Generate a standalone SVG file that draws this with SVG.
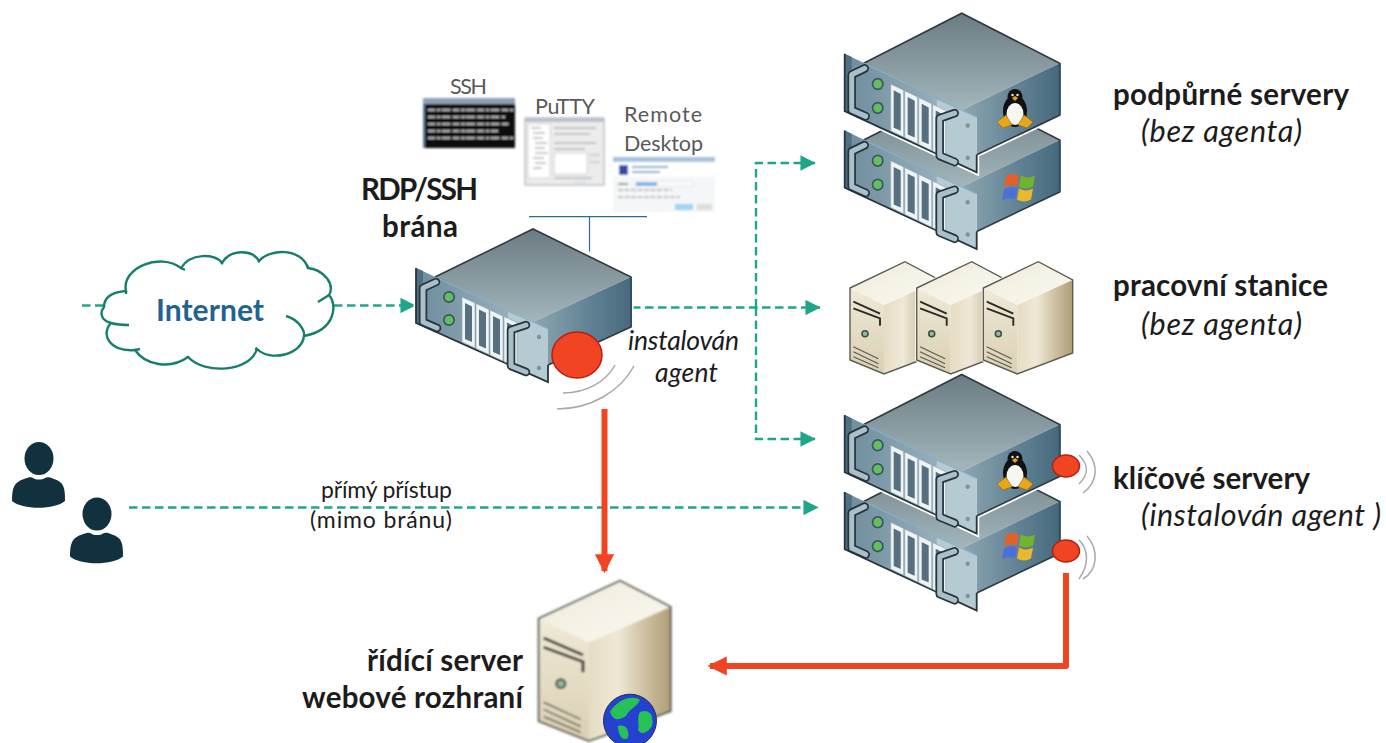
<svg xmlns="http://www.w3.org/2000/svg" width="1386" height="743" viewBox="0 0 1386 743">
<style>
.t{font-family:"Lato","Open Sans","Liberation Sans",sans-serif;fill:#1c1c1c}
.b{font-weight:700;font-size:29.5px}
.i{font-style:italic;font-size:30.5px}
.g{font-size:21.5px;fill:#595959}
.s{font-size:23px}
.dash{fill:none;stroke:#1fa58a;stroke-width:2.4;stroke-dasharray:8.500 4.500}
.red{fill:none;stroke:#f04423;stroke-width:6;stroke-linejoin:round}
.arc{fill:none;stroke:#a8a8a8;stroke-width:1.5}
.agent{fill:#f04423;stroke:#b81f12;stroke-width:1.5}
.h1{fill:none;stroke:#26343b;stroke-width:8.500;stroke-linejoin:round;stroke-linecap:round}
.h2{fill:none;stroke:#a9bfc9;stroke-width:5;stroke-linejoin:round;stroke-linecap:round}
.user{fill:#12313f}
</style>
<defs>
<filter id="soft" x="-10%" y="-10%" width="120%" height="120%"><feGaussianBlur stdDeviation="0.6"/></filter>
<filter id="soft2" x="-10%" y="-10%" width="120%" height="120%"><feGaussianBlur stdDeviation="0.8"/></filter>
<linearGradient id="rTop" x1="0" y1="0" x2="0" y2="1"><stop offset="0" stop-color="#6b7b82"/><stop offset="1" stop-color="#a3b6bc"/></linearGradient>
<linearGradient id="rSide" x1="0" y1="0" x2="1" y2="0"><stop offset="0" stop-color="#8ea6b0"/><stop offset=".55" stop-color="#638496"/><stop offset="1" stop-color="#47697d"/></linearGradient>
<linearGradient id="rFront" x1="0" y1="0" x2="1" y2="0"><stop offset="0" stop-color="#6d8c9c"/><stop offset=".7" stop-color="#97aebb"/><stop offset="1" stop-color="#b9ccd5"/></linearGradient>
<linearGradient id="tTop" x1="0" y1="0" x2="1" y2="1"><stop offset="0" stop-color="#eeeadb"/><stop offset="1" stop-color="#fbf9f1"/></linearGradient>
<linearGradient id="tSide" x1="0" y1="0" x2="1" y2="0"><stop offset="0" stop-color="#e5dcc4"/><stop offset=".35" stop-color="#efe8d6"/><stop offset=".75" stop-color="#c7b998"/><stop offset="1" stop-color="#ae9d78"/></linearGradient>
<linearGradient id="tFront" x1="0" y1="0" x2="0" y2="1"><stop offset="0" stop-color="#efe9d6"/><stop offset="1" stop-color="#d9cfb3"/></linearGradient>
<marker id="ta" viewBox="0 0 8 8" refX="7.6" refY="4" markerWidth="6.4" markerHeight="6.4" orient="auto"><path d="M0 0L8 4L0 8Z" fill="#1fa58a"/></marker>
<marker id="ra" viewBox="0 0 8 8" refX="7" refY="4" markerWidth="3.2" markerHeight="3.6" orient="auto"><path d="M0 0L8 4L0 8Z" fill="#f04423"/></marker>
<g id="bay"><path d="M-71 68L-58 74V119L-71 113Z" fill="#eef3f5" stroke="#8ba2ad" stroke-width=".6"/><path d="M-68 74L-61 77.5V113L-68 110Z" fill="#56707f"/></g>
<g id="handleL"><path class="h1" d="M-97 53L-110 59V93L-96 99"/><path class="h2" d="M-97 53L-110 59V93L-96 99"/></g>
<g id="rack" filter="url(#soft)">
<path d="M0 0L98 48V98L15 136V153L-117 94V39L-98 48Z" fill="#fff" stroke="#fff" stroke-width="5"/>
<path d="M0 0L98 48L0 93L-98 48Z" fill="url(#rTop)"/>
<path d="M0 93L98 48V98L15 136V100Z" fill="url(#rSide)"/>
<path d="M-117 39L15 100V153L-117 94Z" fill="url(#rFront)"/>
<path d="M-117 39L-110 42V97L-117 94Z" fill="#4f7082"/>
<path d="M-25 83L15 100V153L-25 135Z" fill="#b6cad3"/>
<path d="M-98 48L0 0L98 48V98L15 136" fill="none" stroke="#2f3a40" stroke-width="1.6"/>
<path d="M-98 48L15 100" fill="none" stroke="#7fb2cb" stroke-width="1"/>
<path d="M-117 39V94L15 153V136" fill="none" stroke="#28343a" stroke-width="1.8"/>
<path d="M98 48V98" stroke="#33505f" stroke-width="2"/>
<use href="#bay"/><use href="#bay" x="14" y="6.5"/><use href="#bay" x="28" y="13"/><use href="#bay" x="42" y="19.5"/>
<circle cx="-84" cy="68" r="6" fill="#3e5660"/><circle cx="-84" cy="68" r="4.3" fill="#62bf5e"/>
<circle cx="-84" cy="91" r="6" fill="#3e5660"/><circle cx="-84" cy="91" r="4.3" fill="#62bf5e"/>
<use href="#handleL"/>
<path class="h1" d="M-7 96L-22 101V137L-7 143"/><path class="h2" d="M-7 96L-22 101V137L-7 143"/>
<circle cx="6" cy="108" r="2.2" fill="#7d949f"/><circle cx="6" cy="139" r="2.2" fill="#7d949f"/>
</g>
<g id="tux"><ellipse cx="0" cy="2" rx="12" ry="16" fill="#111"/><ellipse cx="0" cy="-12" rx="7.5" ry="8" fill="#111"/><ellipse cx="0" cy="5" rx="8.500" ry="11" fill="#f7f7f2"/><path d="M-3 -11L0 -8L3 -11L0 -13Z" fill="#e4a11b"/><circle cx="-2.5" cy="-14" r="1.2" fill="#eee"/><circle cx="2.5" cy="-14" r="1.2" fill="#eee"/><path d="M-18 13L-9 6L-3 16L-12 19Z" fill="#e8a716" stroke="#8a6510" stroke-width=".6"/><path d="M18 13L9 6L3 16L12 19Z" fill="#e8a716" stroke="#8a6510" stroke-width=".6"/></g>
<g id="win"><path d="M-13 -11Q-7 -14 0 -11L-2 0Q-9 -3 -15 1Z" fill="#e4602a"/><path d="M2 -11Q9 -7 16 -11L14 0Q7 4 0 0Z" fill="#71b52d"/><path d="M-15 3Q-9 -1 -2 2L-4 13Q-11 10 -17 14Z" fill="#4f6fd8"/><path d="M0 2Q7 6 14 2L12 13Q5 17 -2 13Z" fill="#e7b92c"/></g>
<g id="tower" filter="url(#soft)">
<path d="M0 0L34.4 18.3V91.3L-21 112.3L-55 98.3V26.3Z" fill="#fff" stroke="#fff" stroke-width="3"/>
<path d="M0 0L34.4 18.3L-21 43.3L-55 26.3Z" fill="url(#tTop)"/>
<path d="M-21 43.3L34.4 18.3V91.3L-21 112.3Z" fill="url(#tSide)"/>
<path d="M-55 26.3L-21 43.3V112.3L-55 98.3Z" fill="url(#tFront)"/>
<path d="M-55 26.3L0 0L34.4 18.3V91.3L-21 112.3L-55 98.3Z" fill="none" stroke="#5c5b52" stroke-width="1.4"/>
<path d="M-51.6 40L-25 52M-51.6 46.6L-25 56.6V64" fill="none" stroke="#2b2b26" stroke-width="1.9"/>
<circle cx="-40" cy="72" r="3" fill="#9ab5a0" stroke="#315247" stroke-width="1.5"/>
<path d="M-51.6 85L-26.6 97M-51.6 90L-26.6 102M-51.6 95L-26.6 106" fill="none" stroke="#5a5a50" stroke-width="1.1"/>
</g>
<g id="person"><ellipse cx="39" cy="458.5" rx="14.5" ry="16.5"/><path d="M12 501C12 488 14 482 24 479C29 477 32 477 33 478C36 480 42 480 45 478C47 477 50 477 54 479C64 482 65 488 65 501C55 510 22 510 12 501Z"/></g>
</defs>

<g id="connectors">
<path class="dash" d="M82 305.5H106"/>
<path class="dash" d="M334 305.5H415" marker-end="url(#ta)"/>
<path class="dash" d="M632 307.5H820" marker-end="url(#ta)"/>
<path class="dash" d="M756 307.500V163H815" marker-end="url(#ta)"/>
<path class="dash" d="M756 307.500V439H815" marker-end="url(#ta)"/>
<path class="dash" d="M129 507.5H818" marker-end="url(#ta)"/>
<path class="red" d="M604.5 409V571" marker-end="url(#ra)"/>
<path class="red" d="M1066 573V666H710" marker-end="url(#ra)"/>
<path d="M529 216.7H647M589.5 216.7V251.5" fill="none" stroke="#2a6a9a" stroke-width="1.2"/>
</g>

<g id="rdp-gateway">
<use href="#rack" transform="translate(533,229)"/>
<path class="arc" d="M615 365C606 382 586 393 563 393"/>
<path class="arc" d="M634 366C620 392 590 409 557 409"/>
<ellipse class="agent" cx="577" cy="355" rx="25" ry="23"/>
</g>

<g id="support-windows"><use href="#rack" transform="translate(961.7,90) scale(1,1.04)"/><use href="#win" transform="translate(1019,186.5)"/></g>
<g id="support-linux"><use href="#rack" transform="translate(961.7,13.3) scale(1,1.04)"/><use href="#tux" transform="translate(1015,109)"/></g>

<g id="workstations">
<use href="#tower" transform="translate(905,261.7)"/>
<use href="#tower" transform="translate(971.7,261.7)"/>
<use href="#tower" transform="translate(1038.3,261.7)"/>
</g>

<g id="key-windows"><use href="#rack" transform="translate(961.7,451.5) scale(1,1.04)"/><use href="#win" transform="translate(1019,545.5)"/>
<path class="arc" d="M1079 540C1089 550 1089 565 1079 579"/><path class="arc" d="M1087 536C1099 550 1098 570 1083 579"/><ellipse class="agent" cx="1066" cy="551" rx="13.5" ry="11"/></g>
<g id="key-linux"><use href="#rack" transform="translate(961.7,374.5) scale(1,1.04)"/><use href="#tux" transform="translate(1015,471)"/>
<path class="arc" d="M1079 455C1089 465 1089 474 1079 484"/><path class="arc" d="M1087 451C1099 465 1098 482 1083 493"/><ellipse class="agent" cx="1066" cy="466" rx="13.5" ry="11"/></g>

<g id="control-server">
<use href="#tower" transform="translate(620,580.7) scale(1.48,1.43)"/>
<g filter="url(#soft)">
<circle cx="630" cy="720.7" r="26.5" fill="#2540d0" stroke="#24304f" stroke-width="1"/>
<path d="M610 712C618 698 634 695 640 700C636 708 630 708 626 716C620 720 614 722 610 712ZM640 712C650 708 654 716 652 726C648 732 642 736 638 730C640 724 636 718 640 712ZM618 726C624 724 630 728 628 738C622 742 618 734 618 726Z" fill="#27c254"/>
</g>
</g>

<g id="internet-cloud">
<path d="M104 307C104 297 113 292 126 291C121 268 160 252 181 268C190 253 215 253 222 263C230 249 252 249 259 261C270 248 302 248 308 268C325 270 335 285 329 295C337 303 337 330 304 336C302 355 270 362 257 349C250 372 205 375 188 357C170 370 145 365 135 350C110 352 100 335 111 323C100 320 100 312 104 307Z" fill="#fff" stroke="#167f6c" stroke-width="2.4"/>
<path d="M181 268L185 270M222 263L222 264M259 261L258 262M308 268L307 265M329 295L318 302M286 316C300 320 305 332 304 336M257 349L255 349M188 357L188 356M135 350L140 349M111 323C118 325 122 325 129 325M126 291L126 294" fill="none" stroke="#167f6c" stroke-width="2.4"/>
<text class="t" x="156" y="320.500" textLength="108" style="font-weight:700;font-size:30px;fill:#1f6391">Internet</text>
</g>

<g id="users" class="user">
<use href="#person"/>
<use href="#person" x="58" y="55.5"/>
</g>

<g id="ssh-window">
<g filter="url(#soft2)">
<rect x="423" y="98" width="92" height="50" fill="#0c0c0c"/>
<rect x="423" y="98" width="92" height="6" fill="#8fa0b5"/>
<rect x="423" y="104" width="2" height="44" fill="#5e7699"/>
<path d="M428 110H513M428 117H505M428 124H510M428 131H498M428 138H513" fill="none" stroke="#b5b5b5" stroke-width="1.8" stroke-dasharray="7 1.5 4 1 9 2"/>
</g>
<text class="t g" x="450" y="94" textLength="37">SSH</text>
</g>

<g id="putty-window">
<g filter="url(#soft2)">
<rect x="525" y="118" width="79" height="67" fill="#ececec" stroke="#a2a2a2"/>
<rect x="525" y="118" width="79" height="4" fill="#b9c0c9"/>
<rect x="528" y="124" width="22" height="54" fill="#fff" stroke="#b5b5b5" stroke-width=".5"/>
<path d="M531 128H541M533 133H545M533 138H543M535 143H547M535 148H545M535 153H548M533 158H544M535 163H546M533 168H542" stroke="#8f8f8f" stroke-width="1"/>
<rect x="554" y="153" width="33" height="21" fill="#fff" stroke="#b0b0b0" stroke-width=".5"/>
<path d="M554 128H596M554 134H590M554 143H596M554 149H585M554 178H592" stroke="#9a9a9a" stroke-width="1"/>
<rect x="589" y="153" width="11" height="4" fill="#dcdcdc"/><rect x="589" y="160" width="11" height="4" fill="#dcdcdc"/><rect x="574" y="180" width="12" height="4" fill="#dce6ee"/>
</g>
<text class="t g" x="535" y="114" textLength="60">PuTTY</text>
</g>

<g id="rd-window">
<g filter="url(#soft2)">
<rect x="613" y="157" width="102" height="55" fill="#f4f6f8"/>
<rect x="613" y="157" width="102" height="5" fill="#a9c3dc"/>
<rect x="613" y="162" width="102" height="15" fill="#fff"/>
<path d="M619 165h9v10h-9z" fill="#2f4ea0"/>
<path d="M632 167H668M632 172H660" stroke="#5b87b5" stroke-width="1.6"/>
<path d="M618 184H628" stroke="#555" stroke-width="1.2"/><rect x="635" y="182" width="58" height="4" fill="#fff" stroke="#d0d0d0" stroke-width=".5"/><rect x="636" y="182.500" width="21" height="3" fill="#5aa6e6"/>
<path d="M618 190H672M618 197H680" stroke="#8a8a7a" stroke-width="1.2" stroke-dasharray="5 1.500"/>
<rect x="675" y="204" width="18" height="6" fill="#9bd6f2"/><rect x="697" y="204" width="15" height="6" fill="#dedede"/>
</g>
<text class="t g" x="624" y="122" textLength="78">Remote</text>
<text class="t g" x="624" y="151" textLength="79">Desktop</text>
</g>

<g id="labels">
<text class="t b" x="361" y="200" textLength="117">RDP/SSH</text>
<text class="t b" x="382" y="237" textLength="76">brána</text>
<text class="t i" x="628" y="350" textLength="111" style="font-size:26.5px">instalován</text>
<text class="t i" x="655" y="382" textLength="63" style="font-size:26.5px">agent</text>
<text class="t s" x="321" y="498" textLength="131">přímý přístup</text>
<text class="t s" x="310" y="528" textLength="142">(mimo bránu)</text>
<text class="t b" x="1113" y="105" textLength="236">podpůrné servery</text>
<text class="t i" x="1141" y="142" textLength="161">(bez agenta)</text>
<text class="t b" x="1113" y="296" textLength="215">pracovní stanice</text>
<text class="t i" x="1141" y="335" textLength="161">(bez agenta)</text>
<text class="t b" x="1113" y="489" textLength="197">klíčové servery</text>
<text class="t i" x="1141" y="526" textLength="240">(instalován agent )</text>
<text class="t b" x="367" y="671" textLength="156">řídící server</text>
<text class="t b" x="302" y="708" textLength="221">webové rozhraní</text>
</g>
</svg>
